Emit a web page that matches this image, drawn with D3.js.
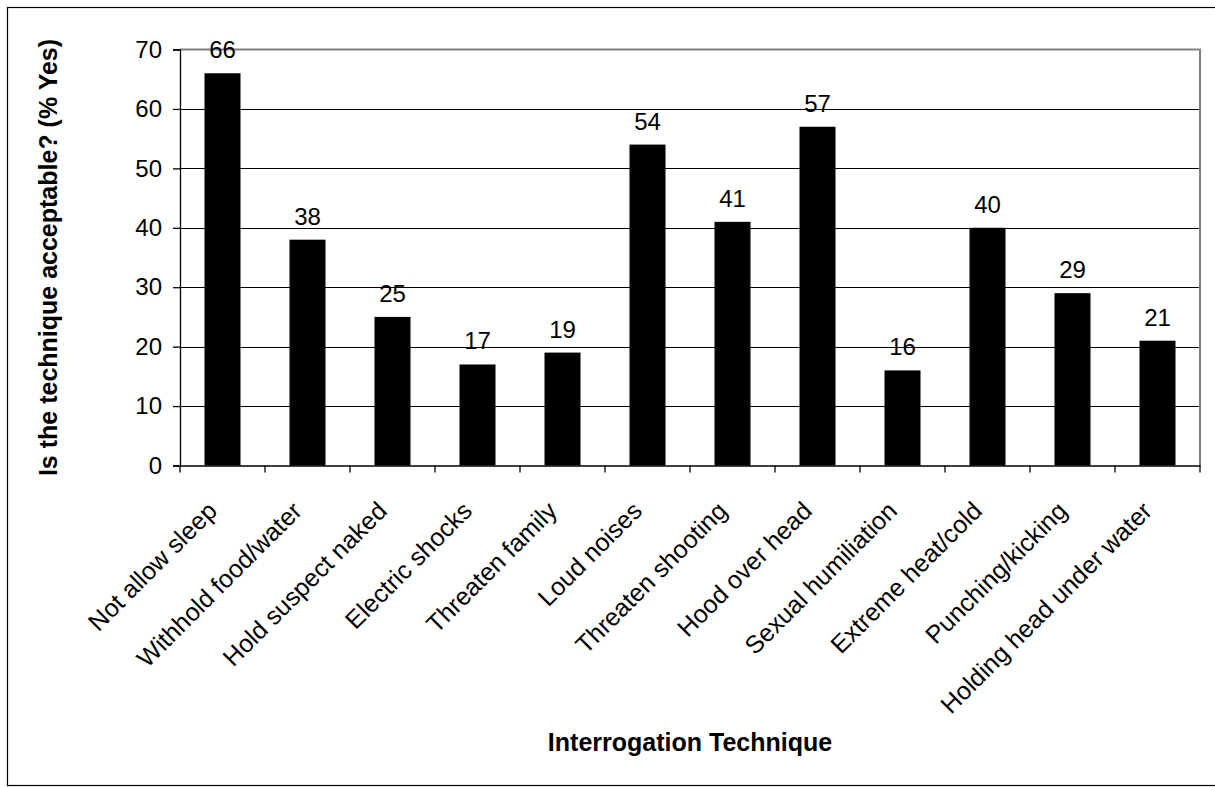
<!DOCTYPE html>
<html>
<head>
<meta charset="utf-8">
<script src="https://cdn.jsdelivr.net/npm/d3@7"></script>
<style>
  html, body { margin: 0; padding: 0; background: #fff; }
  svg { display: block; font-family: "Liberation Sans", Arial, sans-serif; }
</style>
</head>
<body>
<svg id="chart" width="1215" height="787"></svg>
<script>
const categories = ["Not allow sleep", "Withhold food/water", "Hold suspect naked", "Electric shocks",
  "Threaten family", "Loud noises", "Threaten shooting", "Hood over head", "Sexual humiliation",
  "Extreme heat/cold", "Punching/kicking", "Holding head under water"];
const values = [66, 38, 25, 17, 19, 54, 41, 57, 16, 40, 29, 21];
const yTicks = [0, 10, 20, 30, 40, 50, 60, 70];
const yTitle = "Is the technique acceptable? (% Yes)";
const xTitle = "Interrogation Technique";

const svg = d3.select("#chart");
const pLeft = 180, pRight = 1200, pTop = 49.5, pBottom = 465.5;

// outer frame
svg.append("rect").attr("x", 7.5).attr("y", 7.5).attr("width", 1220).attr("height", 778)
  .attr("fill", "#fff").attr("stroke", "#000").attr("stroke-width", 1.2);

const x = d3.scaleBand().domain(categories).range([pLeft, pRight]).paddingInner(0).paddingOuter(0);
const y = d3.scaleLinear().domain([0, 70]).range([pBottom, pTop]);

// gridlines
svg.append("g").selectAll("line").data(yTicks.filter(d => d > 0 && d < 70)).join("line")
  .attr("x1", pLeft).attr("x2", pRight)
  .attr("y1", d => Math.round(y(d)) + 0.5).attr("y2", d => Math.round(y(d)) + 0.5)
  .attr("stroke", "#000").attr("stroke-width", 1);

// plot area border top/right (gray)
svg.append("path")
  .attr("d", `M${pLeft},${pTop} H${pRight} V${pBottom}`)
  .attr("fill", "none").attr("stroke", "#808080").attr("stroke-width", 2);

// bars
const bw = 36;
svg.append("g").selectAll("rect").data(values).join("rect")
  .attr("x", (d, i) => x(categories[i]) + (x.bandwidth() - bw) / 2)
  .attr("width", bw)
  .attr("y", d => y(d))
  .attr("height", d => y(0) - y(d))
  .attr("fill", "#000");

// data labels
svg.append("g").selectAll("text").data(values).join("text")
  .attr("x", (d, i) => x(categories[i]) + x.bandwidth() / 2)
  .attr("y", d => y(d) - 15)
  .attr("text-anchor", "middle")
  .attr("font-size", 24)
  .attr("fill", "#000")
  .text(d => d);

// y axis
const yAxis = d3.axisLeft(y).tickValues(yTicks).tickSize(7).tickPadding(11).tickFormat(d3.format("d"));
const gy = svg.append("g").attr("transform", `translate(${pLeft},0)`).call(yAxis);
gy.select(".domain").attr("stroke", "#000").attr("stroke-width", 1.3);
gy.selectAll(".tick line").attr("stroke", "#000").attr("stroke-width", 1.3);
gy.selectAll(".tick text").attr("font-size", 24).attr("font-family", "Liberation Sans, Arial, sans-serif").attr("fill", "#000");

// x axis
const xAxis = d3.axisBottom(x).tickSize(0).tickFormat(d => d);
const gx = svg.append("g").attr("transform", `translate(0,${pBottom})`).call(xAxis);
gx.select(".domain").attr("stroke", "#000").attr("stroke-width", 1.3);
// tick marks at band boundaries
const bounds = categories.map(c => x(c)).concat([pRight]);
gx.selectAll(".bound").data(bounds).join("line").attr("class", "bound")
  .attr("x1", d => d).attr("x2", d => d).attr("y1", 0).attr("y2", 7)
  .attr("stroke", "#000").attr("stroke-width", 1.3);
gx.selectAll(".tick text")
  .attr("font-size", 25).attr("font-family", "Liberation Sans, Arial, sans-serif").attr("fill", "#000")
  .attr("text-anchor", "end")
  .attr("x", 0).attr("y", 0).attr("dy", 0)
  .attr("transform", "translate(-4,47) rotate(-45)");

// axis titles
svg.append("text")
  .attr("transform", `translate(57,${(pTop + pBottom) / 2}) rotate(-90)`)
  .attr("text-anchor", "middle").attr("font-size", 25).attr("font-weight", "bold").attr("fill", "#000")
  .text(yTitle);
svg.append("text")
  .attr("x", 690).attr("y", 750.5)
  .attr("text-anchor", "middle").attr("font-size", 25).attr("font-weight", "bold").attr("fill", "#000")
  .text(xTitle);
</script>
</body>
</html>
